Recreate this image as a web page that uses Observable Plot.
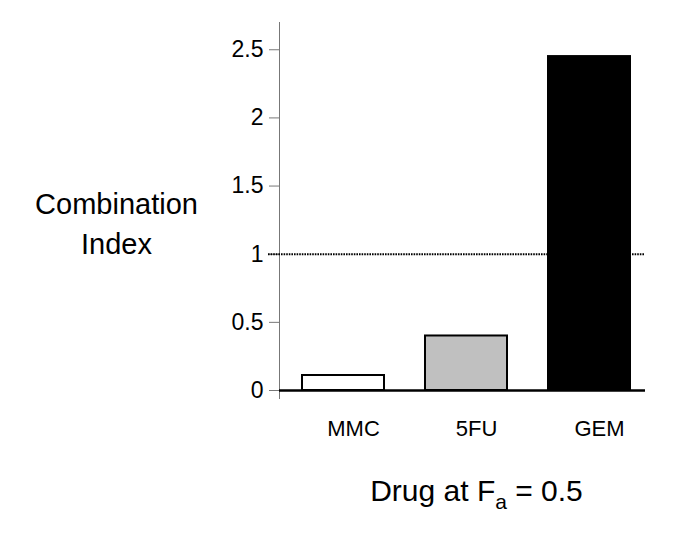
<!DOCTYPE html>
<html>
<head>
<meta charset="utf-8">
<script src="https://cdn.jsdelivr.net/npm/d3@7"></script>
<script src="https://cdn.jsdelivr.net/npm/@observablehq/plot@0.6"></script>
<style>
  html, body { margin: 0; padding: 0; background: #fff; }
  #chart svg { display: block; }
</style>
</head>
<body>
<div id="chart"></div>
<script>
// Data
const drugs = ["MMC", "5FU", "GEM"];
const combinationIndex = [0.11, 0.40, 2.45];
const barFills = ["#ffffff", "#c0c0c0", "#000000"];
const yTicks = [0, 0.5, 1, 1.5, 2, 2.5];
const referenceLine = [1];
const yLabel = "Combination\nIndex";
const xLabel = "Drug at Fa = 0.5";

const rows = drugs.map((d, i) => ({drug: d, ci: combinationIndex[i]}));
const font = "'Liberation Sans', Arial, Helvetica, sans-serif";

const chart = Plot.plot({
  width: 688,
  height: 538,
  marginLeft: 279,
  marginRight: 43,
  marginTop: 22,
  marginBottom: 148,
  style: {fontFamily: font, background: "#fff", color: "#000"},
  x: {domain: drugs, paddingInner: 1/3, paddingOuter: 0.154, align: 0.6},
  y: {domain: [0, 2.7]},
  color: {domain: drugs, range: barFills},
  marks: [
    Plot.frame({anchor: "left", stroke: "#777", strokeWidth: 1, insetBottom: -8}),
    Plot.axisY({ticks: yTicks, tickFormat: d => String(d), tickSize: 10, tickPadding: 6, fontSize: 23, stroke: "#777", label: null}),
    Plot.barY(rows, {x: "drug", y: "ci", fill: "drug", stroke: "#000", strokeWidth: 2}),
    Plot.ruleY(referenceLine, {stroke: "#000", strokeWidth: 2, strokeDasharray: "1.6,1", dx: -11, insetRight: -11}),
    Plot.ruleY([0], {stroke: "#000", strokeWidth: 2.5}),
    Plot.axisX({tickSize: 0, tickPadding: 30, dx: 10, fontSize: 22, label: null}),
    Plot.text([yLabel], {frameAnchor: "left", text: d => d, dx: -163, dy: 15, fontSize: 29, lineHeight: 1.35, textAnchor: "middle", fill: "#000"}),
    Plot.text([xLabel], {frameAnchor: "bottom", text: d => d, dx: 14, dy: 110, fontSize: 30, textAnchor: "middle", fill: "#000"})
  ]
});

document.getElementById("chart").appendChild(chart);

// Render the subscript "a" in the x-axis title
d3.select(chart).selectAll("text").filter(function() { return this.textContent === xLabel; }).each(function() {
  const t = d3.select(this);
  t.text(null);
  t.append("tspan").text("Drug at F");
  t.append("tspan").attr("font-size", 21).attr("dy", 8).text("a");
  t.append("tspan").attr("font-size", 30).attr("dy", -8).text(" = 0.5");
});
</script>
</body>
</html>
